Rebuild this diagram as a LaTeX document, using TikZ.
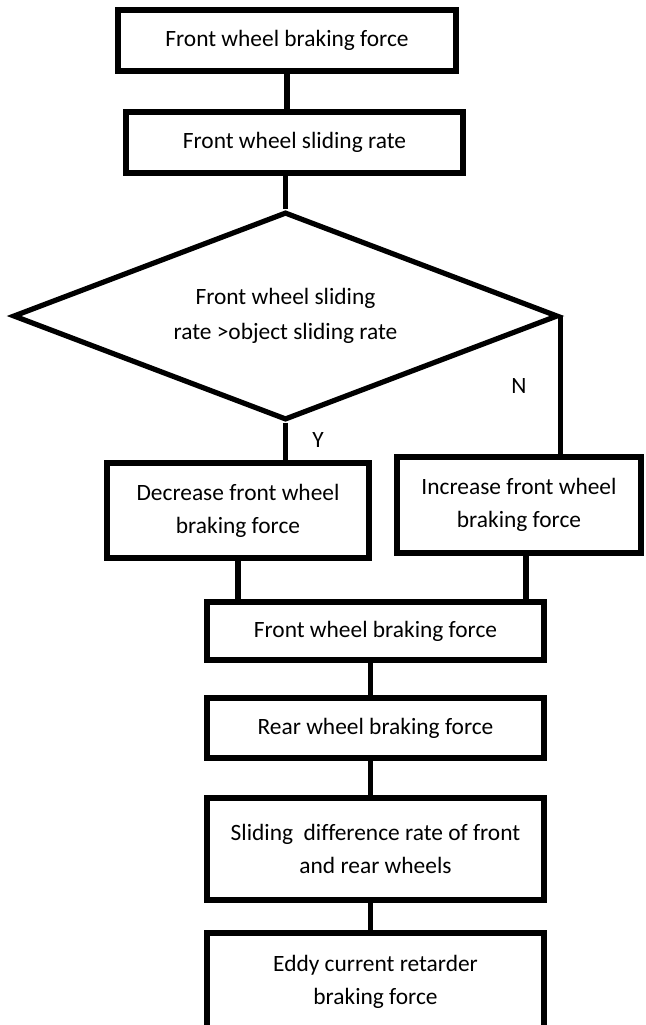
\documentclass[tikz,border=0pt]{standalone}
\usepackage{fontspec}
\setmainfont{Carlito}[Ligatures=CommonOff]
\usetikzlibrary{shapes.geometric}

\begin{document}
\begin{tikzpicture}[x=0.5pt, y=-0.5pt]
\tikzstyle{block} = [draw, line width=2.6pt, fill=white, align=center, inner sep=2pt, font=\fontsize{11.7}{16.5}\selectfont]
\tikzstyle{decision} = [diamond, draw, line width=2.6pt, aspect=2.6, inner sep=0pt, align=center, font=\fontsize{11.7}{17.5}\selectfont]
\tikzstyle{link} = [line width=2.8pt]
\tikzstyle{answer} = [font=\fontsize{11.7}{14}\selectfont]

\useasboundingbox (0,0) rectangle (646,1025);
\clip (0,0) rectangle (646,1025);

\node[block, minimum width=169pt, minimum height=30.5pt] (fwforce) at (287,40.5) {Front wheel braking force};
\node[block, minimum width=168.5pt, minimum height=30.5pt] (fwslide) at (294.5,142.5) {Front wheel sliding rate};

\node[decision, minimum width=272.5pt, minimum height=104pt] (check) at (285.5,316) {Front wheel sliding\\rate >object sliding rate};

\node[block, minimum width=131pt, minimum height=47.5pt] (decrease) at (238,510.5) {Decrease front wheel\\braking force};
\node[block, minimum width=122pt, minimum height=48pt] (increase) at (519,505) {Increase front wheel\\braking force};

\node[block, minimum width=168.5pt, minimum height=29pt] (fwforcenew) at (375.5,631) {Front wheel braking force};
\node[block, minimum width=168.5pt, minimum height=30pt] (rwforce) at (375.5,728) {Rear wheel braking force};
\node[block, minimum width=168.5pt, minimum height=51pt] (slidediff) at (375.5,849) {Sliding~ difference rate of front\\and rear wheels};
\node[block, minimum width=168.5pt, minimum height=49pt] (retarder) at (375.5,982) {Eddy current retarder\\braking force};

\node[answer] (yes) at (318,440) {Y};
\node[answer] (no) at (519,386) {N};

\draw[link] (fwforce.south) -- (fwforce.south |- fwslide.north);
\draw[link] (check.north |- fwslide.south) -- (check.north);
\draw[link] (check.south) -- (check.south |- decrease.north);
\draw[link] (check.east) -- (check.east |- increase.north);
\draw[link] (decrease.south) -- (decrease.south |- fwforcenew.north);
\draw[link] ([xshift=3.5pt]increase.south) -- ([xshift=3.5pt]increase.south |- fwforcenew.north);
\draw[link] ([xshift=-2.5pt]fwforcenew.south) -- ([xshift=-2.5pt]rwforce.north);
\draw[link] ([xshift=-2.5pt]rwforce.south) -- ([xshift=-2.5pt]slidediff.north);
\draw[link] ([xshift=-2.5pt]slidediff.south) -- ([xshift=-2.5pt]retarder.north);

\end{tikzpicture}
\end{document}
